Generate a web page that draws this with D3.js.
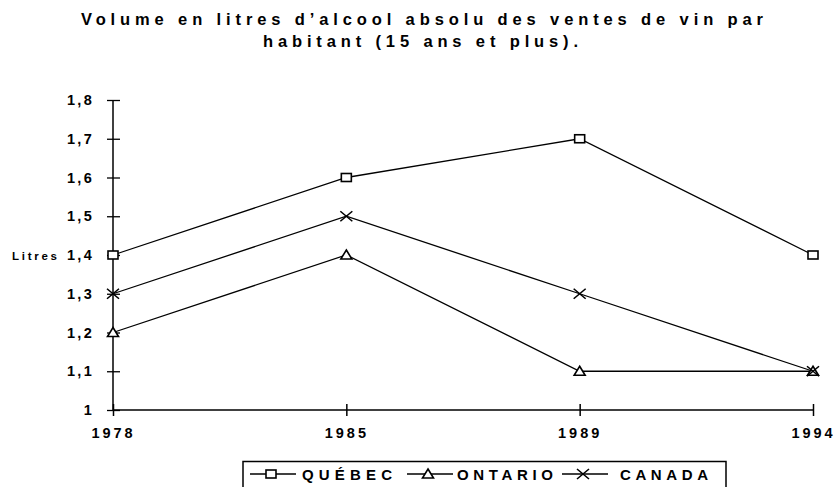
<!DOCTYPE html>
<html>
<head>
<meta charset="utf-8">
<script src="https://cdn.jsdelivr.net/npm/d3@7"></script>
<style>
  body { margin: 0; background: #fff; }
  svg { display: block; }
  text { font-family: "Liberation Sans", Arial, sans-serif; font-weight: bold; fill: #000; }
</style>
</head>
<body>
<div id="chart"></div>
<script>
// data
var years = ["1978", "1985", "1989", "1994"];
var quebec = [1.4, 1.6, 1.7, 1.4];
var ontario = [1.2, 1.4, 1.1, 1.1];
var canada = [1.3, 1.5, 1.3, 1.1];
var yTicks = [1, 1.1, 1.2, 1.3, 1.4, 1.5, 1.6, 1.7, 1.8];
var seriesNames = ["QUÉBEC", "ONTARIO", "CANADA"];
var seriesMarks = ["square", "triangle", "cross"];

var width = 839, height = 487;

var svg = d3.select("#chart").append("svg")
  .attr("width", width)
  .attr("height", height);

// title
svg.append("text")
  .attr("x", 81).attr("y", 24.5)
  .attr("textLength", 682).attr("lengthAdjust", "spacing")
  .style("font-size", "16.5px")
  .text("Volume en litres d’alcool absolu des ventes de vin par");
svg.append("text")
  .attr("x", 263).attr("y", 46.5)
  .attr("textLength", 315).attr("lengthAdjust", "spacing")
  .style("font-size", "16.5px")
  .text("habitant (15 ans et plus).");

var x = d3.scalePoint().domain(years).range([113, 813]);
var y = d3.scaleLinear().domain([1, 1.8]).range([410, 100]);

var fmt = function(d){
  return d === 1 ? "1" : d3.format(".1f")(d).replace(".", ",");
};

// y axis
var yAxis = d3.axisLeft(y).tickValues(yTicks).tickFormat(fmt).tickSize(6).tickPadding(13);
var gy = svg.append("g")
  .attr("transform", "translate(113,0)")
  .call(yAxis);
gy.select(".domain").attr("d", "M0," + y(1.8) + "V" + y(1)).attr("stroke", "#000").attr("stroke-width", 1.5);
gy.selectAll(".tick line").attr("x1", -6).attr("x2", 7).attr("stroke", "#000").attr("stroke-width", 1.3);
gy.selectAll(".tick text")
  .style("font-size", "14.5px")
  .style("letter-spacing", "2.3px")
  .style("font-family", "'Liberation Sans', Arial, sans-serif")
  .attr("fill", "#000");

// x axis
var xAxis = d3.axisBottom(x).tickSize(5).tickPadding(13);
var gx = svg.append("g")
  .attr("transform", "translate(0," + y(1) + ")")
  .call(xAxis);
gx.select(".domain").attr("d", "M113,0H813").attr("stroke", "#000").attr("stroke-width", 1.5);
gx.selectAll(".tick line").attr("y1", -6).attr("y2", 6).attr("stroke", "#000").attr("stroke-width", 1.5);
gx.selectAll(".tick text")
  .style("font-size", "14.5px")
  .style("letter-spacing", "3px")
  .style("font-family", "'Liberation Sans', Arial, sans-serif")
  .attr("fill", "#000");

// y label
svg.append("text")
  .attr("x", 12).attr("y", 260)
  .attr("textLength", 45).attr("lengthAdjust", "spacing")
  .style("font-size", "11.5px")
  .text("Litres");

// markers
function drawMarker(g, type, cx, cy){
  if(type === "square"){
    g.append("rect")
      .attr("x", cx - 5).attr("y", cy - 4)
      .attr("width", 10).attr("height", 8)
      .attr("fill", "#fff").attr("stroke", "#000").attr("stroke-width", 1.6);
  } else if(type === "triangle"){
    g.append("path")
      .attr("d", "M" + cx + "," + (cy - 5) + "L" + (cx + 5.5) + "," + (cy + 4) + "L" + (cx - 5.5) + "," + (cy + 4) + "Z")
      .attr("fill", "#fff").attr("stroke", "#000").attr("stroke-width", 1.6);
  } else {
    g.append("path")
      .attr("d", "M" + (cx - 6) + "," + (cy - 5) + "L" + (cx + 6) + "," + (cy + 5) + "M" + (cx + 6) + "," + (cy - 5) + "L" + (cx - 6) + "," + (cy + 5))
      .attr("fill", "none").attr("stroke", "#000").attr("stroke-width", 1.6);
  }
}

var line = d3.line()
  .x(function(d, i){ return x(years[i]); })
  .y(function(d){ return y(d); });

var allSeries = [quebec, ontario, canada];
allSeries.forEach(function(values, s){
  var g = svg.append("g");
  g.append("path")
    .attr("d", line(values))
    .attr("fill", "none")
    .attr("stroke", "#000")
    .attr("stroke-width", 1.3);
  values.forEach(function(v, i){
    drawMarker(g, seriesMarks[s], x(years[i]), y(v));
  });
});

// legend
var legend = svg.append("g");
legend.append("path")
  .attr("d", "M243,490V461.5H726V490")
  .attr("fill", "none").attr("stroke", "#000").attr("stroke-width", 1.5);

var legendX = [250, 407, 562];
var textX = [302, 457, 620];
var textW = [90, 96, 88];
seriesNames.forEach(function(name, i){
  var lg = legend.append("g");
  lg.append("line")
    .attr("x1", legendX[i]).attr("x2", legendX[i] + 46)
    .attr("y1", 474).attr("y2", 474)
    .attr("stroke", "#000").attr("stroke-width", 1.3);
  drawMarker(lg, seriesMarks[i], legendX[i] + 21, 474);
  lg.append("text")
    .attr("x", textX[i]).attr("y", 479.5)
    .attr("textLength", textW[i]).attr("lengthAdjust", "spacing")
    .style("font-size", "15px")
    .text(name);
});
</script>
</body>
</html>
